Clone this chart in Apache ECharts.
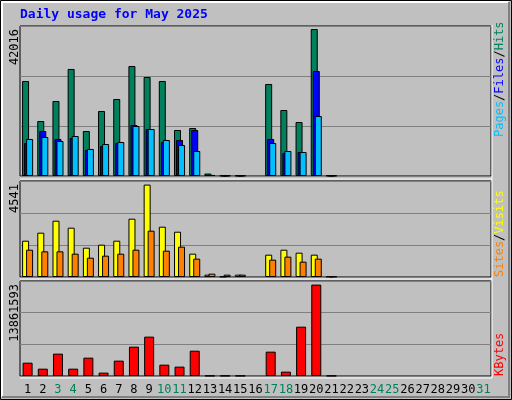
<!DOCTYPE html>
<html>
<head>
<meta charset="utf-8">
<script src="https://cdn.jsdelivr.net/npm/echarts@6/dist/echarts.min.js"></script>
<style>html,body{margin:0;padding:0;background:#c0c0c0}#main{width:512px;height:400px}</style>
</head>
<body>
<div id="main"></div>
<script>
var days = [];
for (var d = 1; d <= 31; d++) days.push(String(d));
var weekend = ['3','4','10','11','17','18','24','25','31'];
// '-' = no data for that day
var hits   = [27160,15720,21440,30590,12860,18580,22010,31440,28300,27160,13150,13720,700,120,120,'-',26300,18860,15430,42016,120,'-','-','-','-','-','-','-','-','-','-'];
var files  = [9430,12860,10580,10860,7430,8570,9430,14580,13430,9720,10290,13150,300,120,120,'-',10580,6570,6860,30010,120,'-','-','-','-','-','-','-','-','-','-'];
var pages  = [10580,11150,10000,11430,7720,9150,9720,14290,13430,10290,8860,7150,300,120,120,'-',9430,7150,6860,17150,120,'-','-','-','-','-','-','-','-','-','-'];
var visits = [1784,2177,2767,2423,1440,1588,1784,2866,4541,2472,2226,1146,115,20,115,'-',1097,1342,1195,1097,20,'-','-','-','-','-','-','-','-','-','-'];
var sites  = [1342,1261,1261,1146,949,1048,1146,1342,2276,1294,1490,901,164,115,115,'-',852,1000,753,901,20,'-','-','-','-','-','-','-','-','-','-'];
var kbytes = [2020000,1110000,3390000,1110000,2780000,510000,2330000,4450000,5970000,1720000,1420000,3840000,40000,40000,40000,'-',3690000,660000,7480000,13861593,40000,'-','-','-','-','-','-','-','-','-','-'];

var maxHits = 42016, maxVisits = 4541, maxKB = 13861593;
var top1 = 42016 * 150 / 147, top2 = 4541 * 96 / 92.4, top3 = 13861593 * 95 / 91.4;

var chart = echarts.init(document.getElementById('main'));
var mono = 'DejaVu Sans Mono';
function bar(name, data, color, axis, width, gap) {
    return {
        name: name, type: 'bar', data: data, xAxisIndex: axis, yAxisIndex: axis,
        barWidth: width, barGap: gap, animation: false,
        itemStyle: { color: color, borderColor: '#000', borderWidth: 1 }
    };
}
function yAx(i, max) {
    return { gridIndex: i, type: 'value', min: 0, max: max, interval: max / 3,
        axisLabel: { show: false }, axisLine: { show: false }, axisTick: { show: false },
        splitLine: { lineStyle: { color: '#808080', width: 1 } } };
}
function xAx(i, show) {
    return { gridIndex: i, type: 'category', data: days,
        axisLine: { show: false }, axisTick: { show: false },
        axisLabel: { show: show, interval: 0, margin: 8, fontFamily: mono, fontSize: 12,
            color: function (v) { return weekend.indexOf(v) >= 0 ? '#00805C' : '#000'; } } };
}
function sideText(x, y, rich, text) {
    return { type: 'text', x: x, y: y, rotation: Math.PI / 2,
        style: { text: text, rich: rich, align: 'left', verticalAlign: 'middle', font: '12px ' + mono } };
}
function valText(y, t) {
    return { type: 'text', x: 15, y: y, rotation: Math.PI / 2,
        style: { text: t, align: 'right', verticalAlign: 'middle', font: '12px ' + mono, fill: '#000' } };
}
var option = {
    backgroundColor: '#c0c0c0',
    grid: [
        { left: 20, width: 471, top: 26, height: 150, show: true, backgroundColor: '#c0c0c0', borderColor: '#000', borderWidth: 1 },
        { left: 20, width: 471, top: 181, height: 96, show: true, backgroundColor: '#c0c0c0', borderColor: '#000', borderWidth: 1 },
        { left: 20, width: 471, top: 281, height: 95, show: true, backgroundColor: '#c0c0c0', borderColor: '#000', borderWidth: 1 }
    ],
    xAxis: [xAx(0, false), xAx(1, false), xAx(2, true)],
    yAxis: [yAx(0, top1), yAx(1, top2), yAx(2, top3)],
    series: [
        bar('Hits', hits, '#00805C', 0, 7, '-71%'),
        bar('Files', files, '#0000FF', 0, 7, '-71%'),
        bar('Pages', pages, '#00C0FF', 0, 7, '-71%'),
        bar('Visits', visits, '#FFFF00', 1, 7, '-43%'),
        bar('Sites', sites, '#FF8000', 1, 7, '-43%'),
        bar('KBytes', kbytes, '#FF0000', 2, 10, '0%')
    ],
    graphic: [
        { type: 'rect', shape: { x: 0.5, y: 0.5, width: 511, height: 399 }, style: { fill: null, stroke: '#000', lineWidth: 1 }, silent: true },
        { type: 'polyline', shape: { points: [[2, 397], [2, 2], [509, 2]] }, style: { stroke: '#fff', lineWidth: 2, fill: null } },
        { type: 'polyline', shape: { points: [[509, 2], [509, 397], [2, 397]] }, style: { stroke: '#808080', lineWidth: 2, fill: null } },
        { type: 'polyline', shape: { points: [[20, 378], [492, 378], [492, 25]] }, style: { stroke: '#fff', lineWidth: 1, fill: null } },
        { type: 'polyline', shape: { points: [[20, 179], [492, 179]] }, style: { stroke: '#fff', lineWidth: 1, fill: null } },
        { type: 'polyline', shape: { points: [[20, 279], [492, 279]] }, style: { stroke: '#fff', lineWidth: 1, fill: null } },
        { type: 'text', x: 20, y: 15, style: { text: 'Daily usage for May 2025', font: 'bold 13px ' + mono, fill: '#0000FF', verticalAlign: 'middle' } },
        valText(29, String(maxHits)),
        valText(184, String(maxVisits)),
        valText(284, String(maxKB)),
        sideText(500, 137, {
            p: { fill: '#00C0FF' }, s: { fill: '#000' }, f: { fill: '#0000FF' }, h: { fill: '#00805C' }
        }, '{p|Pages}{s|/}{f|Files}{s|/}{h|Hits}'),
        sideText(500, 277, { si: { fill: '#FF8000' }, s: { fill: '#000' }, v: { fill: '#FFFF00' } }, '{si|Sites}{s|/}{v|Visits}'),
        sideText(500, 376, { k: { fill: '#FF0000' } }, '{k|KBytes}')
    ]
};
chart.setOption(option);
</script>
</body>
</html>
